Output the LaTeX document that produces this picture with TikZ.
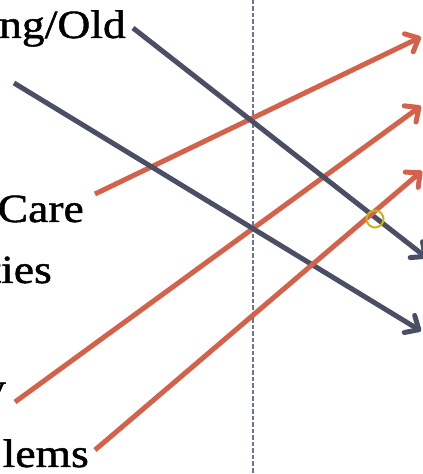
\documentclass[tikz,border=0pt]{standalone}
\usepackage{fontspec}
\setmainfont{Liberation Serif}[FakeStretch=1.14, FakeBold=1.2]
\usetikzlibrary{arrows.meta}
\definecolor{darkln}{HTML}{4B4F66}
\definecolor{orangeln}{HTML}{D4624A}
\definecolor{dashln}{HTML}{6D7594}
\definecolor{hlcirc}{HTML}{C9B21A}
\begin{document}
\begin{tikzpicture}[x=1pt,y=1pt,
  lbl/.style={font=\fontsize{40}{48}\selectfont, inner sep=0pt, anchor=base east},
  conn/.style={line width=5pt, -{Straight Barb[length=11pt,width=20pt,line cap=round,line join=round]}},
  darkconn/.style={conn, draw=darkln},
  orangeconn/.style={conn, draw=orangeln},
  divider/.style={draw=dashln, line width=1.3pt, dash pattern=on 4.5pt off 2pt}]
\clip (0,0) rectangle (423,474);
\useasboundingbox (0,0) rectangle (423,474);

% labels
\node[lbl] (old)  at (126,436) {ng/Old};
\node[lbl] (care) at (84,252)  {Care};
\node[lbl] (ies)  at (52,191)  {ties};
\node[lbl] (yy)   at (6,73)    {y};
\node[lbl] (lems) at (89,7)    {lems};

% connector end points
\coordinate (a1) at (133,446);
\coordinate (a2) at (427,216);
\coordinate (b1) at (14,391);
\coordinate (b2) at (421,143);
\coordinate (c1) at (95,280);
\coordinate (c2) at (421,437);
\coordinate (d1) at (15,72);
\coordinate (d2) at (421,368);
\coordinate (e1) at (95,24);
\coordinate (e2) at (422,303);
\coordinate (top) at (253,474);
\coordinate (bot) at (253,0);

% divider
\draw[divider] (top) -- (bot);

% connectors
\draw[orangeconn] (c1) -- (c2);
\draw[orangeconn] (d1) -- (d2);
\draw[darkconn] (a1) -- (a2);
\draw[darkconn] (b1) -- (b2);
\draw[orangeconn] (e1) -- (e2);

% highlight circle
\node[draw=hlcirc, line width=2pt, circle, minimum size=17pt, inner sep=0pt] (hl) at (375,255) {};
\end{tikzpicture}
\end{document}
